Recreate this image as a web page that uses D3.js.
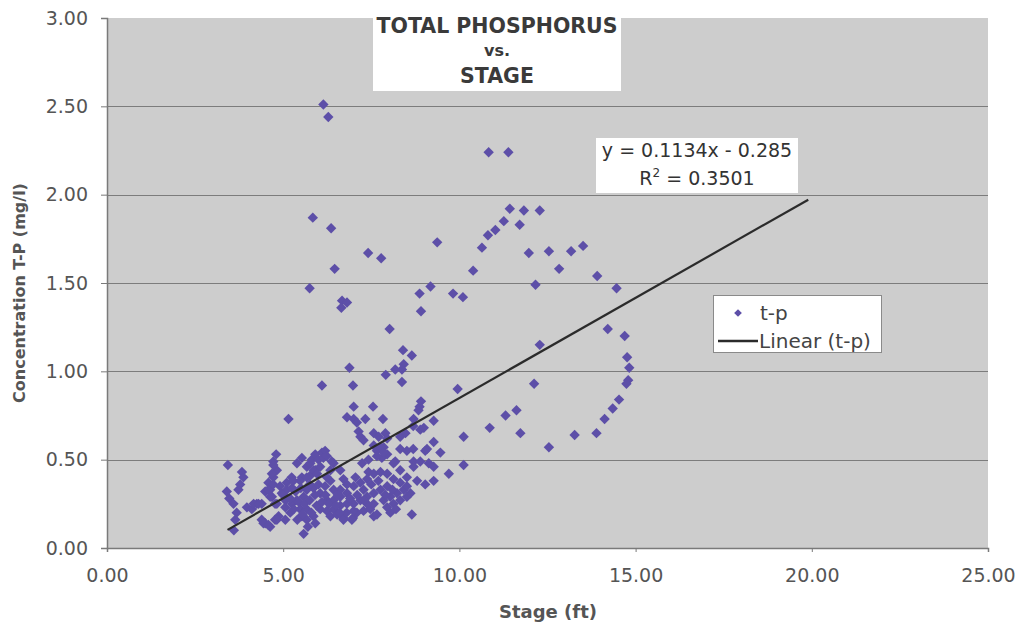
<!DOCTYPE html>
<html><head><meta charset="utf-8">
<script src="https://cdn.jsdelivr.net/npm/d3@7"></script>
<style>body{margin:0;background:#fff}svg{display:block}text{font-family:"DejaVu Sans",sans-serif}</style>
</head><body><svg id="chart" width="1019" height="626"></svg>
<script>
const xTicks = [0, 5, 10, 15, 20, 25];
const yTicks = [0, 0.5, 1, 1.5, 2, 2.5, 3];
const titleLines = ["TOTAL PHOSPHORUS", "vs.", "STAGE"];
const xTitle = "Stage (ft)";
const yTitle = "Concentration T-P (mg/l)";
const seriesName = "t-p";
const trendName = "Linear (t-p)";
const slope = 0.1134, intercept = -0.285, rSquared = 0.3501;
const trendRange = [3.42, 19.9];
// [stage (ft), total phosphorus (mg/l)]
const tpVsStage = [
[6.14,2.51],[6.28,2.44],[10.83,2.24],[11.39,2.24],[5.84,1.87],[6.36,1.81],[9.37,1.73],[7.41,1.67],[7.78,1.64],[6.46,1.58],[5.75,1.47],[6.67,1.40],[6.81,1.39],[6.65,1.36],[8.87,1.44],[9.18,1.48],[9.82,1.44],[10.10,1.42],[10.39,1.57],[10.64,1.70],[10.81,1.77],[11.02,1.80],[8.91,1.34],[11.43,1.92],[11.83,1.91],[12.28,1.91],[11.26,1.85],[11.71,1.83],[11.97,1.67],[12.54,1.68],[13.17,1.68],[13.51,1.71],[12.83,1.58],[12.16,1.49],[13.91,1.54],[14.46,1.47],[14.21,1.24],[14.69,1.20],[14.76,1.08],[14.82,1.02],[14.79,0.95],[14.74,0.93],[14.53,0.84],[14.35,0.79],[14.12,0.73],[13.89,0.65],[13.27,0.64],[12.54,0.57],[12.28,1.15],[12.12,0.93],[11.62,0.78],[11.31,0.75],[11.73,0.65],[10.86,0.68],[10.12,0.63],[9.95,0.90],[10.12,0.47],[9.70,0.42],
[8.65,1.09],[8.42,1.04],[8.37,1.01],[8.37,0.94],[8.91,0.83],[8.87,0.80],[8.84,0.78],[9.27,0.72],[9.27,0.60],[8.69,0.69],[8.89,0.67],[8.32,0.63],[8.47,0.65],[8.32,0.56],[8.69,0.56],[9.08,0.56],[9.46,0.54],[8.02,1.24],[8.40,1.12],[8.18,1.01],[6.88,1.02],[7.91,0.98],[6.10,0.92],[6.98,0.92],[7.00,0.80],[7.55,0.80],[5.15,0.73],[6.81,0.74],[7.00,0.73],[7.09,0.71],[7.33,0.73],[7.83,0.73],[8.70,0.73],[8.99,0.68],[7.14,0.66],[7.19,0.63],[7.28,0.61],[7.57,0.65],[7.71,0.63],[7.90,0.65],[7.95,0.62],[7.57,0.58],[7.85,0.57],[7.95,0.53],[7.80,0.51],[7.66,0.55],[8.51,0.55],[9.03,0.55],[8.70,0.49],[8.89,0.49],[9.13,0.48],[9.27,0.46],[8.80,0.38],[9.03,0.36],[9.27,0.38],[8.65,0.19],[7.76,0.57],[8.18,0.49],[7.42,0.43],
[3.43,0.47],[4.80,0.53],[3.83,0.43],[3.87,0.40],[3.78,0.36],[3.73,0.33],[3.40,0.32],[3.47,0.28],[3.59,0.25],[3.68,0.20],[3.64,0.16],[3.60,0.10],[3.97,0.23],[4.11,0.22],[4.25,0.25],[4.39,0.25],[4.39,0.16],[4.49,0.14],[4.63,0.12],[4.77,0.16],[4.87,0.18],[4.58,0.37],[4.72,0.40],[4.82,0.44],[4.72,0.49],[4.63,0.33],[4.49,0.32],[4.68,0.29],[4.77,0.25],[4.91,0.35],[4.96,0.31],[5.10,0.37],[5.24,0.40],[5.06,0.27],[5.58,0.08],[5.39,0.48],[5.53,0.51],[5.67,0.46],[5.81,0.50],[5.91,0.53],[6.10,0.54],[6.19,0.55],[5.91,0.44],[5.77,0.41],[5.53,0.40],[7.57,0.18],[6.71,0.17],[6.98,0.17],
[4.16,0.25],[4.30,0.25],[4.44,0.14],[4.58,0.13],[4.82,0.16],[4.72,0.47],[4.68,0.42],[4.72,0.36],[4.58,0.33],[4.63,0.29],[4.82,0.25],[5.10,0.33],[5.25,0.34],[5.06,0.23],[5.25,0.25],[5.39,0.27],[5.58,0.29],[5.48,0.22],[5.67,0.22],[5.53,0.18],[5.67,0.16],[5.86,0.18],[5.91,0.14],[5.29,0.38],[5.48,0.38],[5.67,0.40],[5.86,0.44],[5.77,0.48],[6.00,0.50],[6.14,0.51],[6.24,0.52],[5.96,0.42],[5.86,0.34],[6.05,0.31],[6.19,0.35],[6.34,0.38],[6.43,0.33],[6.24,0.27],[6.43,0.27],[6.62,0.29],[6.81,0.31],[7.00,0.35],[7.19,0.37],[7.38,0.39],[7.57,0.42],[7.76,0.43],[7.95,0.42],[8.13,0.48],[8.32,0.44],[8.51,0.40],[8.70,0.46],[8.13,0.39],[7.95,0.35],[7.76,0.33],[7.57,0.31],[7.38,0.29],[7.19,0.27],[7.00,0.25],[6.81,0.25],[6.62,0.24],[6.43,0.22],[6.24,0.21],[6.05,0.22],[6.34,0.18],[6.53,0.19],[6.71,0.16],[6.95,0.16],[7.09,0.20],[7.28,0.21],[7.47,0.22],[7.66,0.19],[7.57,0.25],[7.85,0.27],[8.04,0.29],[8.23,0.31],[8.42,0.33],[8.32,0.37],[8.51,0.35],[7.95,0.23],[8.13,0.25],[8.32,0.27],[8.51,0.29],[8.61,0.31],[8.04,0.20],[7.38,0.25],[7.28,0.33],[6.81,0.36],[6.62,0.33],[6.43,0.48],[6.62,0.44],[6.34,0.44],[6.05,0.46],[5.67,0.33],[5.20,0.20],[5.06,0.16],[6.24,0.40],[7.05,0.40],[7.24,0.48],[7.42,0.50],[7.66,0.52],[7.85,0.54],[6.71,0.39],[6.38,0.49],
[5.30,0.22],[5.45,0.26],[5.60,0.25],[5.75,0.27],[5.95,0.24],[5.80,0.20],[5.55,0.19],[6.10,0.26],[6.30,0.25],[6.50,0.24],[5.40,0.16],[5.70,0.12],
[5.00,0.30],[5.20,0.28],[5.35,0.32],[5.50,0.34],[6.20,0.30],[6.55,0.30],[6.90,0.28],[7.10,0.30],[7.30,0.27],[7.50,0.36],[7.70,0.38],[7.90,0.30],[8.10,0.33],[8.20,0.22],[7.00,0.21],[6.80,0.20],[6.60,0.20],[5.90,0.30],[6.00,0.36],[5.75,0.36]
];

const svg = d3.select("#chart");
const x = d3.scaleLinear().domain([0, 25]).range([107, 988]);
const y = d3.scaleLinear().domain([0, 3]).range([548, 18]);
const fmt = d3.format(".2f");
const markColor = "#5d4fa8";
const textColor = "#444";

svg.append("rect").attr("width", 1019).attr("height", 626).attr("fill", "#fff");
svg.append("rect").attr("x", x(0)).attr("y", y(3)).attr("width", x(25) - x(0)).attr("height", y(0) - y(3)).attr("fill", "#cdcdcd");
svg.append("g").selectAll("line").data(yTicks.filter(d => d > 0 && d < 3)).join("line")
  .attr("x1", x(0)).attr("x2", x(25)).attr("y1", d => Math.round(y(d)) + 0.5).attr("y2", d => Math.round(y(d)) + 0.5)
  .attr("stroke", "#7c7c7c").attr("stroke-width", 1.2);

const yAxis = svg.append("g").attr("transform", `translate(${x(0)},0)`)
  .call(d3.axisLeft(y).tickValues(yTicks).tickFormat(fmt).tickSize(6).tickPadding(13));
const xAxis = svg.append("g").attr("transform", `translate(0,${y(0)})`)
  .call(d3.axisBottom(x).tickValues(xTicks).tickFormat(fmt).tickSize(4).tickPadding(17));
[yAxis, xAxis].forEach(g => {
  g.select(".domain").attr("stroke", "#7a7a7a").attr("stroke-width", 1.5);
  g.selectAll(".tick line").attr("stroke", "#7a7a7a");
  g.selectAll(".tick text").attr("font-family", "'DejaVu Sans', sans-serif").attr("font-size", 19).attr("fill", "#555");
});

const tb = svg.append("g");
tb.append("rect").attr("x", 373).attr("y", 17).attr("width", 248).attr("height", 74).attr("fill", "#fff");
const titleY = [33, 56, 83], titleSize = [20.5, 16, 20.5];
tb.selectAll("text").data(titleLines).join("text")
  .attr("x", 497).attr("y", (d, i) => titleY[i]).attr("text-anchor", "middle")
  .attr("font-weight", "bold").attr("font-size", (d, i) => titleSize[i]).attr("fill", "#3a3a3a").text(d => d);

const diamond = d3.symbol(d3.symbolSquare, 54);
svg.append("g").selectAll("path").data(tpVsStage).join("path")
  .attr("d", diamond).attr("transform", d => `translate(${x(d[0])},${y(d[1])}) rotate(45)`)
  .attr("fill", markColor);

svg.append("line")
  .attr("x1", x(trendRange[0])).attr("y1", y(slope * trendRange[0] + intercept))
  .attr("x2", x(trendRange[1])).attr("y2", y(slope * trendRange[1] + intercept))
  .attr("stroke", "#2b2b2b").attr("stroke-width", 2.2);

const eb = svg.append("g");
eb.append("rect").attr("x", 596).attr("y", 138).attr("width", 202).attr("height", 55).attr("fill", "#fff");
eb.append("text").attr("x", 697).attr("y", 157).attr("text-anchor", "middle").attr("font-size", 19).attr("fill", "#333")
  .text(`y = ${slope}x - ${Math.abs(intercept)}`);
const r2 = eb.append("text").attr("x", 697).attr("y", 185).attr("text-anchor", "middle").attr("font-size", 19).attr("fill", "#333");
r2.append("tspan").text("R");
r2.append("tspan").attr("font-size", 12).attr("dy", -8).text("2");
r2.append("tspan").attr("dy", 8).text(` = ${rSquared}`);

const lg = svg.append("g");
lg.append("rect").attr("x", 713.5).attr("y", 295.5).attr("width", 168).attr("height", 57).attr("fill", "#fff").attr("stroke", "#8a8a8a");
lg.append("path").attr("d", d3.symbol(d3.symbolSquare, 30)).attr("transform", "translate(738,313) rotate(45)").attr("fill", markColor);
lg.append("text").attr("x", 760).attr("y", 320).attr("font-size", 20).attr("fill", textColor).text(seriesName);
lg.append("line").attr("x1", 718).attr("x2", 758).attr("y1", 341).attr("y2", 341).attr("stroke", "#2b2b2b").attr("stroke-width", 2.5);
lg.append("text").attr("x", 759).attr("y", 348).attr("font-size", 20).attr("fill", textColor).text(trendName);

svg.append("text").attr("x", 548).attr("y", 618).attr("text-anchor", "middle").attr("font-weight", "bold")
  .attr("font-size", 18).attr("fill", "#555").text(xTitle);
svg.append("text").attr("transform", "translate(25,293) rotate(-90)").attr("text-anchor", "middle").attr("font-weight", "bold")
  .attr("font-size", 16).attr("fill", "#555").text(yTitle);
</script></body></html>
